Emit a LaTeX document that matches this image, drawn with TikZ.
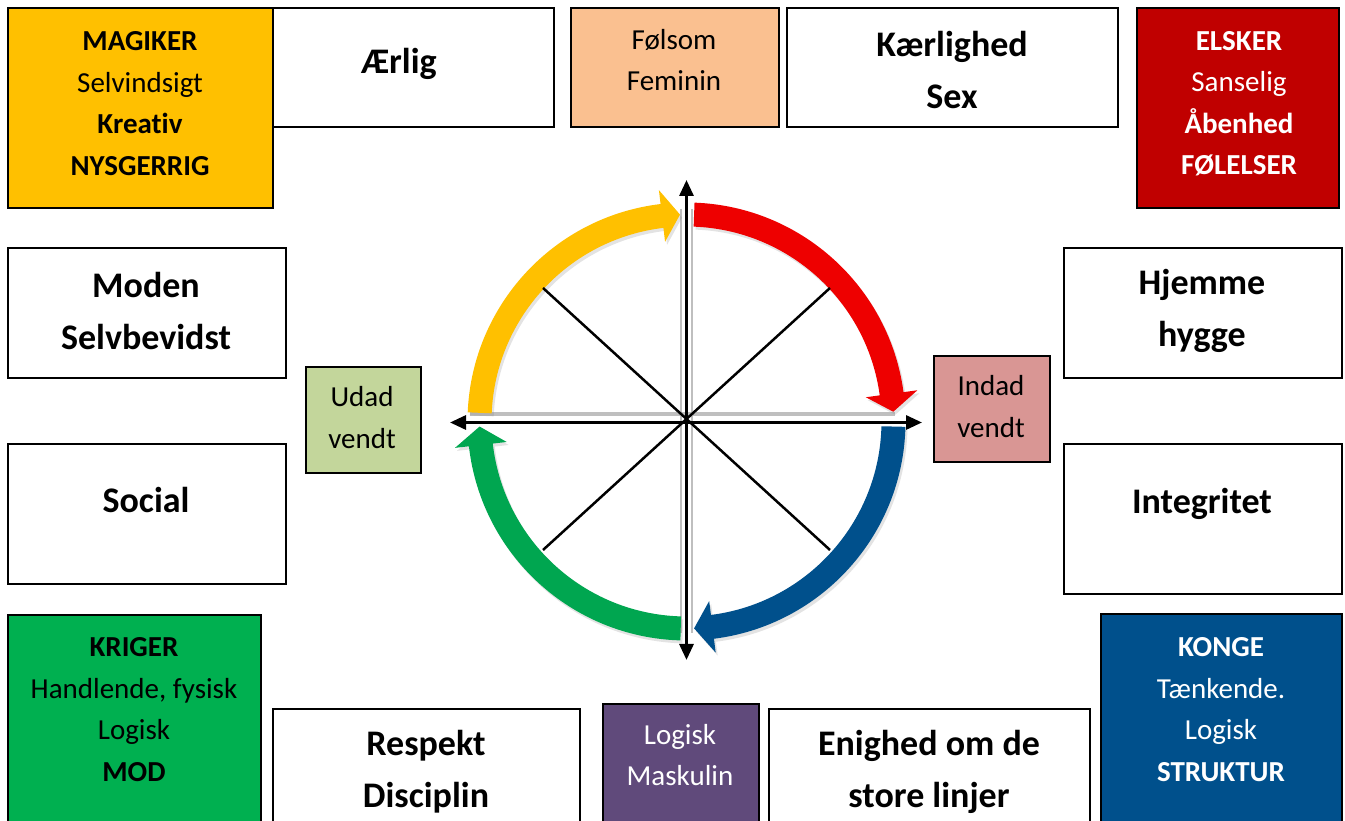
\documentclass[tikz,border=0pt]{standalone}
\usepackage{fontspec}
\setmainfont{Carlito}[Ligatures={NoCommon,NoContextual,NoRare},Contextuals=NoAlternate]
\usetikzlibrary{arrows.meta,shadows}
\definecolor{cgold}{HTML}{FFC000}
\definecolor{cred}{HTML}{C00000}
\definecolor{cgreen}{HTML}{00B050}
\definecolor{cblue}{HTML}{00508C}
\definecolor{cpurple}{HTML}{604A7B}
\definecolor{cpeach}{HTML}{FAC090}
\definecolor{clgreen}{HTML}{C3D69B}
\definecolor{crose}{HTML}{D99694}
\definecolor{arcred}{HTML}{EE0000}
\definecolor{arcgreen}{HTML}{00A650}
\newcommand{\bandarr}[4]{%
  \fill[#1, drop shadow={opacity=0.22, shadow xshift=2pt, shadow yshift=-3pt}]
    (#2:219pt) arc[start angle=#2, end angle=#3, radius=219pt]
    -- (#3:233pt) -- (#4:207pt) -- (#3:181pt) -- (#3:195pt)
    arc[start angle=#3, end angle=#2, radius=195pt] -- cycle;}
\tikzset{
  box/.style={draw=black, line width=1.5pt, inner sep=0pt, anchor=south west},
  sm/.style={align=center, inner sep=0pt, font=\fontsize{29}{41.5}\selectfont},
  big/.style={align=center, inner sep=0pt, font=\fontsize{36}{52}\selectfont\bfseries},
  axis/.style={line width=3pt, black, {Triangle[width=14pt,length=16pt]}-{Triangle[width=14pt,length=16pt]}},
  greyline/.style={line width=2.5pt, black!25},
  diag/.style={line width=2.5pt, black}
}
\begin{document}
\begin{tikzpicture}[x=1pt,y=1pt]
\useasboundingbox (0,0) rectangle (1345,821);
\clip (0,0) rectangle (1345,821);
\fill[white] (0,0) rectangle (1345,821);

% boxes
\node[box, fill=cgold, minimum width=265pt, minimum height=200pt] (magbox) at (7,612) {};
\node[box, minimum width=281pt, minimum height=119pt] (aerbox) at (272,693) {};
\node[box, fill=cpeach, minimum width=208pt, minimum height=119pt] (folbox) at (570,693) {};
\node[box, minimum width=331pt, minimum height=119pt] (kaebox) at (786,693) {};
\node[box, fill=cred, minimum width=202pt, minimum height=200pt] (elbox) at (1136,612) {};
\node[box, minimum width=278pt, minimum height=130pt] (modbox) at (7,442) {};
\node[box, fill=clgreen, minimum width=115pt, minimum height=106pt] (udbox) at (305,347) {};
\node[box, minimum width=278pt, minimum height=140pt] (socbox) at (7,236) {};
\node[box, minimum width=278pt, minimum height=130pt] (hjbox) at (1063,442) {};
\node[box, fill=crose, minimum width=116pt, minimum height=106pt] (inbox) at (933,358) {};
\node[box, minimum width=278pt, minimum height=150pt] (intbox) at (1063,226) {};
\node[box, fill=cgreen, minimum width=253pt, minimum height=220pt] (krbox) at (7,-15) {};
\node[box, minimum width=307pt, minimum height=126pt] (resbox) at (272,-15) {};
\node[box, fill=cpurple, minimum width=156pt, minimum height=131pt] (logbox) at (602,-15) {};
\node[box, minimum width=321pt, minimum height=126pt] (enbox) at (768,-15) {};
\node[box, fill=cblue, minimum width=241pt, minimum height=221pt] (kobox) at (1100,-15) {};

% texts
\node[sm] (magtxt) at (140,717.5) {\textbf{MAGIKER}\\Selvindsigt\\\textbf{Kreat\kern0pt iv}\\\textbf{NYSGERRIG}};
\node[big] (aertxt) at (399,757) {Ærlig};
\node[sm] (foltxt) at (674,761) {Følsom\\Feminin};
\node[big] (kaetxt) at (952,750.5) {Kærlighed\\Sex};
\node[sm, text=white] (eltxt) at (1239,717.5) {\textbf{ELSKER}\\Sanselig\\\textbf{Åbenhed}\\\textbf{FØLELSER}};
\node[big] (modtxt) at (146,510) {Moden\\Selvbevidst};
\node[sm] (udtxt) at (362,403.5) {Udad\\vendt};
\node[big] (soctxt) at (146,321) {Social};
\node[big] (hjtxt) at (1202,510) {Hjemme\\hygge};
\node[sm] (intxt) at (991,414.5) {Indad\\vendt};
\node[big] (inttxt) at (1202,317) {Integritet};
\node[sm] (krtxt) at (134,111.5) {\textbf{KRIGER}\\Handlende, fysisk\\Logisk\\\textbf{MOD}};
\node[big] (restxt) at (426,49.5) {Respekt\\Disciplin};
\node[sm, text=white] (logtxt) at (680,66) {Logisk\\Maskulin};
\node[big] (entxt) at (929,49.5) {Enighed om de\\store linjer};
\node[sm, text=white] (kotxt) at (1221,111.5) {\textbf{KONGE}\\Tænkende.\\Logisk\\\textbf{STRUKTUR}};

% wheel
\coordinate (C) at (686.5,399);
\coordinate (vt) at (686.5,641);
\coordinate (vb) at (686.5,161);
\coordinate (hl) at (450,398.5);
\coordinate (hr) at (922,398.5);
\coordinate (g1a) at (681,612); \coordinate (g1b) at (681,188);
\coordinate (g2a) at (692,612); \coordinate (g2b) at (692,188);
\coordinate (g3a) at (470,407); \coordinate (g3b) at (895,407);
\draw[greyline] (g1a) -- (g1b);
\draw[greyline] (g2a) -- (g2b);
\draw[greyline, line width=3.5pt] (g3a) -- (g3b);

\begin{scope}[shift={(686.5,399.5)}]
\bandarr{cgold}{177.6}{96.8}{91.8}
\bandarr{arcred}{87.9}{7.7}{2.7}
\bandarr{cblue}{-1.4}{-82.8}{-87.9}
\bandarr{arcgreen}{-91.6}{-173.5}{-178.6}
\end{scope}

\coordinate (d1a) at (543,533); \coordinate (d1b) at (830,271);
\coordinate (d2a) at (830,533); \coordinate (d2b) at (543,271);
\draw[diag] (d1a) -- (d1b);
\draw[diag] (d2a) -- (d2b);
\draw[axis] (vb) -- (vt);
\draw[axis] (hl) -- (hr);
\end{tikzpicture}
\end{document}
